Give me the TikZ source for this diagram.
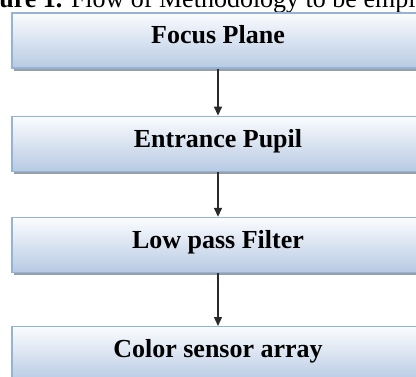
\documentclass[tikz,border=0pt]{standalone}
\usepackage{fontspec}
\setmainfont{Liberation Serif}
\usepackage{xcolor}
\usepackage{tikz}
\usetikzlibrary{arrows.meta,positioning,shadows}
\definecolor{boxedge}{HTML}{95B3D7}
\definecolor{boxtop}{HTML}{FBFCFE}
\definecolor{boxbottom}{HTML}{B7CAE3}
\definecolor{shade}{HTML}{8E959E}
\definecolor{inkgray}{HTML}{2A2A2A}
\tikzset{
  stagebox/.style={draw=boxedge,line width=1.2pt,top color=boxtop,bottom color=boxbottom,
    minimum width=412pt,minimum height=55pt,inner sep=0pt,
    text height=17pt,text depth=10pt,font=\fontsize{26}{30}\selectfont\bfseries,
    drop shadow={shadow xshift=2pt,shadow yshift=-3pt,fill=shade,opacity=0.9}},
  stagearrow/.style={-{Triangle[length=9pt,width=8pt]},draw=inkgray,line width=1.4pt}
}
\begin{document}
\begin{tikzpicture}[x=1pt,y=1pt,node distance=47pt]
  \useasboundingbox (0,0) rectangle (416,376);
  \node[anchor=base west,font=\fontsize{26}{30}\selectfont,inner sep=0pt] (cap) at (-37,368)
    {\textbf{Figure 1.} Flow of Methodology to be employed};
  \node[stagebox] (focus) at (218,335.5) {Focus Plane};
  \node[stagebox,below=of focus] (pupil) {Entrance Pupil};
  \node[stagebox,below=45pt of pupil] (filter) {Low pass Filter};
  \node[stagebox,below=53pt of filter] (sensor) {Color sensor array};
  \draw[stagearrow] (focus)--(pupil);
  \draw[stagearrow] (pupil)--(filter);
  \draw[stagearrow] (filter)--(sensor);
\end{tikzpicture}
\end{document}
